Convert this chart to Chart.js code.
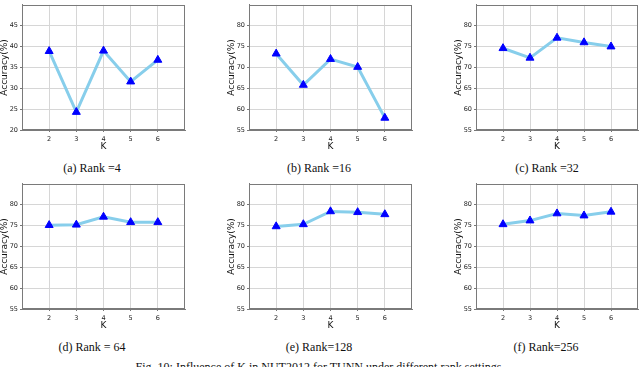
<!DOCTYPE html>
<html>
<head>
<meta charset="utf-8">
<script src="https://cdn.jsdelivr.net/npm/chart.js@4/dist/chart.umd.min.js"></script>
<style>
  html, body { margin: 0; padding: 0; background: #fff; }
  body { width: 640px; height: 367px; position: relative; overflow: hidden; }
  canvas { position: absolute; }
  .cap { position: absolute; font-family: "Liberation Serif", "Times New Roman", serif; font-size: 12px; line-height: 12px; white-space: nowrap; transform: translateX(-50%); color: #111; }
</style>
</head>
<body>
<canvas id="ca"></canvas>
<canvas id="cb"></canvas>
<canvas id="cc"></canvas>
<canvas id="cd"></canvas>
<canvas id="ce"></canvas>
<canvas id="cf"></canvas>
<div class="cap" style="left:92px; top:162px;">(a) Rank =4</div>
<div class="cap" style="left:319px; top:162px;">(b) Rank =16</div>
<div class="cap" style="left:547px; top:162px;">(c) Rank =32</div>
<div class="cap" style="left:92px; top:341px;">(d) Rank = 64</div>
<div class="cap" style="left:319px; top:341px;">(e) Rank=128</div>
<div class="cap" style="left:546px; top:341px;">(f) Rank=256</div>
<div class="cap" style="left:320px; top:361px;">Fig. 10: Influence of K in NUT2012 for TUNN under different rank settings.</div>
<script>
// ---- data ----
const kValues = [2, 3, 4, 5, 6];
const rank4   = [38.9, 24.3, 39.0, 31.6, 36.8];
const rank16  = [73.3, 65.8, 72.0, 70.1, 57.9];
const rank32  = [74.6, 72.3, 77.1, 76.0, 75.0];
const rank64  = [75.1, 75.2, 77.1, 75.8, 75.8];
const rank128 = [74.8, 75.3, 78.4, 78.2, 77.7];
const rank256 = [75.3, 76.2, 77.9, 77.4, 78.3];
const yTitle = 'Accuracy(%)';
const xTitle = 'K';

const YW = 26, XH = 22, PT = 2, PR = 2;
const FONT = "'DejaVu Sans', sans-serif";

const boxPlugin = {
  id: 'box',
  beforeDatasetsDraw(chart) {
    const a = chart.chartArea, ctx = chart.ctx;
    ctx.save();
    ctx.strokeStyle = '#7a7a7a';
    ctx.lineWidth = 1;
    ctx.strokeRect(Math.round(a.left) + 0.5, Math.round(a.top) + 0.5,
                   Math.round(a.right - a.left) - 1, Math.round(a.bottom - a.top) - 1);
    ctx.restore();
  }
};

function makeChart(id, values, yMin, yMax, L, T, R, B) {
  const cv = document.getElementById(id);
  const w = (R - L) + YW + PR, h = (B - T) + PT + XH;
  cv.style.left = (L - YW) + 'px';
  cv.style.top = (T - PT) + 'px';
  cv.style.width = w + 'px';
  cv.style.height = h + 'px';
  cv.width = w; cv.height = h;
  new Chart(cv, {
    type: 'line',
    data: {
      datasets: [{
        data: kValues.map((k, i) => ({ x: k, y: values[i] })),
        borderColor: '#87CEEB',
        borderWidth: 3,
        pointStyle: 'triangle',
        pointRadius: 4.6,
        pointBackgroundColor: '#0000ff',
        pointBorderColor: '#0000ff',
        pointBorderWidth: 1,
        tension: 0,
        clip: false
      }]
    },
    options: {
      responsive: false,
      animation: false,
      devicePixelRatio: 1,
      layout: { autoPadding: false, padding: { top: PT, right: PR, left: 0, bottom: 0 } },
      plugins: { legend: { display: false }, tooltip: { enabled: false } },
      scales: {
        x: {
          type: 'linear', min: 1, max: 7,
          afterBuildTicks: s => { s.ticks = s.ticks.filter(t => t.value >= 2 && t.value <= 6); },
          afterFit: s => { s.height = XH; },
          ticks: { stepSize: 1, color: '#222', font: { family: FONT, size: 6.5 }, padding: 3, maxRotation: 0 },
          grid: { color: '#d6d6d6', lineWidth: 1, tickLength: 2, tickColor: '#777' },
          border: { color: '#7a7a7a', width: 1 },
          title: { display: true, text: xTitle, color: '#111', font: { family: FONT, size: 9 }, padding: { top: 0, bottom: 0 } }
        },
        y: {
          min: yMin, max: yMax,
          afterBuildTicks: s => { s.ticks = s.ticks.filter(t => t.value < yMax); },
          afterFit: s => { s.width = YW; },
          ticks: { stepSize: 5, color: '#222', font: { family: FONT, size: 6.5 }, padding: 2 },
          grid: { color: '#d6d6d6', lineWidth: 1, tickLength: 2, tickColor: '#777' },
          border: { color: '#7a7a7a', width: 1 },
          title: { display: true, text: yTitle, color: '#111', font: { family: FONT, size: 9 }, padding: { top: 3.6, bottom: 0 } }
        }
      }
    },
    plugins: [boxPlugin]
  });
}

makeChart('ca', rank4,   20, 50, 22, 1, 185, 130);
makeChart('cb', rank16,  55, 85, 249, 1, 412, 130);
makeChart('cc', rank32,  55, 85, 476, 1, 638, 130);
makeChart('cd', rank64,  55, 85, 22, 180, 185, 309);
makeChart('ce', rank128, 55, 85, 249, 180, 412, 309);
makeChart('cf', rank256, 55, 85, 476, 180, 638, 309);
</script>
</body>
</html>
